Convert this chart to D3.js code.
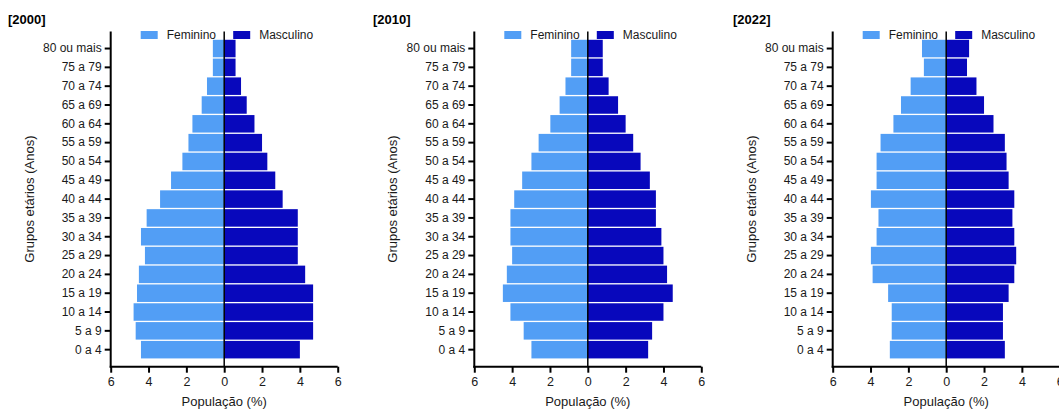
<!DOCTYPE html>
<html>
<head>
<meta charset="utf-8">
<script src="https://cdn.jsdelivr.net/npm/d3@7"></script>
<style>
  html, body { margin: 0; padding: 0; background: #fff; }
  svg { display: block; font-family: "Liberation Sans", Arial, sans-serif; }
</style>
</head>
<body>
<svg id="chart" width="1059" height="411"></svg>
<script>
// Age groups, youngest first
const ageGroups = ["0 a 4", "5 a 9", "10 a 14", "15 a 19", "20 a 24", "25 a 29", "30 a 34",
  "35 a 39", "40 a 44", "45 a 49", "50 a 54", "55 a 59", "60 a 64", "65 a 69", "70 a 74",
  "75 a 79", "80 ou mais"];

// Share of total population (%) by sex and census year
const fem2000  = [4.4, 4.68, 4.79, 4.61, 4.51, 4.19, 4.4, 4.1, 3.39, 2.81, 2.21, 1.89, 1.68, 1.19, 0.91, 0.6, 0.6];
const masc2000 = [4.0, 4.7, 4.7, 4.7, 4.28, 3.89, 3.89, 3.89, 3.09, 2.7, 2.28, 2.0, 1.6, 1.19, 0.89, 0.6, 0.6];
const fem2010  = [2.98, 3.39, 4.09, 4.49, 4.28, 4.0, 4.09, 4.09, 3.89, 3.47, 2.98, 2.6, 1.98, 1.49, 1.18, 0.88, 0.88];
const masc2010 = [3.19, 3.4, 4.0, 4.49, 4.19, 4.0, 3.89, 3.6, 3.6, 3.28, 2.79, 2.4, 2.0, 1.6, 1.1, 0.79, 0.79];
const fem2022  = [2.98, 2.88, 2.88, 3.07, 3.89, 3.98, 3.68, 3.58, 3.98, 3.68, 3.68, 3.47, 2.79, 2.39, 1.88, 1.18, 1.28];
const masc2022 = [3.1, 3.0, 3.0, 3.3, 3.6, 3.7, 3.6, 3.5, 3.6, 3.3, 3.19, 3.1, 2.5, 2.0, 1.6, 1.1, 1.21];

const panelTitles = ["[2000]", "[2010]", "[2022]"];
const xTicks = [-6, -4, -2, 0, 2, 4, 6];
const legendLabels = ["Feminino", "Masculino"];

const COLOR_FEM = "#529ef5";
const COLOR_MASC = "#0808bc";
const TEXT = "#1a1a1a";

const panels = [
  { title: panelTitles[0], fem: fem2000, masc: masc2000, axisX: 110.7, titleX: 8 },
  { title: panelTitles[1], fem: fem2010, masc: masc2010, axisX: 474.3, titleX: 373 },
  { title: panelTitles[2], fem: fem2022, masc: masc2022, axisX: 832.7, titleX: 733 }
];

const svg = d3.select("#chart");
const plotTop = 31.5, plotBottom = 366.7, plotW = 227;

panels.forEach(p => {
  const g = svg.append("g");

  const x = d3.scaleLinear().domain([-6, 6]).range([p.axisX, p.axisX + plotW]);
  const y = d3.scaleBand()
    .domain(ageGroups.slice().reverse())
    .range([plotTop, plotBottom])
    .paddingInner(0.07)
    .paddingOuter(0.44);
  const x0 = x(0);

  // Female bars (left of zero)
  g.selectAll("rect.fem").data(ageGroups).join("rect")
    .attr("class", "fem")
    .attr("x", (d, i) => x(-p.fem[i]))
    .attr("y", d => y(d))
    .attr("width", (d, i) => x0 - x(-p.fem[i]))
    .attr("height", y.bandwidth())
    .attr("fill", COLOR_FEM);

  // Male bars (right of zero)
  g.selectAll("rect.masc").data(ageGroups).join("rect")
    .attr("class", "masc")
    .attr("x", x0)
    .attr("y", d => y(d))
    .attr("width", (d, i) => x(p.masc[i]) - x0)
    .attr("height", y.bandwidth())
    .attr("fill", COLOR_MASC);

  // Zero line
  g.append("line")
    .attr("x1", x0).attr("x2", x0)
    .attr("y1", plotTop).attr("y2", plotBottom)
    .attr("stroke", "#000").attr("stroke-width", 1.5);

  // Y axis
  const yAxis = g.append("g")
    .attr("transform", `translate(${p.axisX},0)`)
    .call(d3.axisLeft(y).tickSize(6).tickSizeOuter(0).tickPadding(3));
  yAxis.select(".domain").attr("stroke", "#000").attr("stroke-width", 2)
    .attr("d", `M0,${plotTop}V${plotBottom + 1}`);
  yAxis.selectAll(".tick line").attr("stroke", "#000").attr("stroke-width", 2);
  yAxis.selectAll(".tick text").attr("fill", TEXT).style("font-size", "12px")
    .style("font-family", "'Liberation Sans', Arial, sans-serif");

  // X axis
  const xAxis = g.append("g")
    .attr("transform", `translate(0,${plotBottom})`)
    .call(d3.axisBottom(x).tickValues(xTicks).tickFormat(d => Math.abs(d))
      .tickSize(6).tickSizeOuter(0).tickPadding(4));
  xAxis.select(".domain").attr("stroke", "#000").attr("stroke-width", 2)
    .attr("d", `M${p.axisX - 1},0H${p.axisX + plotW}`);
  xAxis.selectAll(".tick line").attr("stroke", "#000").attr("stroke-width", 2);
  xAxis.selectAll(".tick text").attr("fill", TEXT).style("font-size", "12.5px")
    .style("font-family", "'Liberation Sans', Arial, sans-serif");

  // Axis titles
  g.append("text")
    .attr("x", x0).attr("y", 406)
    .attr("text-anchor", "middle")
    .attr("fill", TEXT).style("font-size", "13px")
    .text("População (%)");

  g.append("text")
    .attr("transform", `translate(${p.axisX - 77},${(plotTop + plotBottom) / 2}) rotate(-90)`)
    .attr("text-anchor", "middle")
    .attr("fill", TEXT).style("font-size", "13px")
    .text("Grupos etários (Anos)");

  // Panel title
  g.append("text")
    .attr("x", p.titleX).attr("y", 24)
    .attr("fill", "#000").style("font-size", "13px").style("font-weight", "bold")
    .text(p.title);

  // Legend
  const legend = [
    { label: legendLabels[0], color: COLOR_FEM, sx: x0 - 83.5, tx: x0 - 57.5 },
    { label: legendLabels[1], color: COLOR_MASC, sx: x0 + 9, tx: x0 + 35 }
  ];
  legend.forEach(l => {
    g.append("rect")
      .attr("x", l.sx).attr("y", 31).attr("width", 17).attr("height", 8)
      .attr("fill", l.color);
    g.append("text")
      .attr("x", l.tx).attr("y", 39)
      .attr("fill", TEXT).style("font-size", "12px")
      .text(l.label);
  });
});
</script>
</body>
</html>
